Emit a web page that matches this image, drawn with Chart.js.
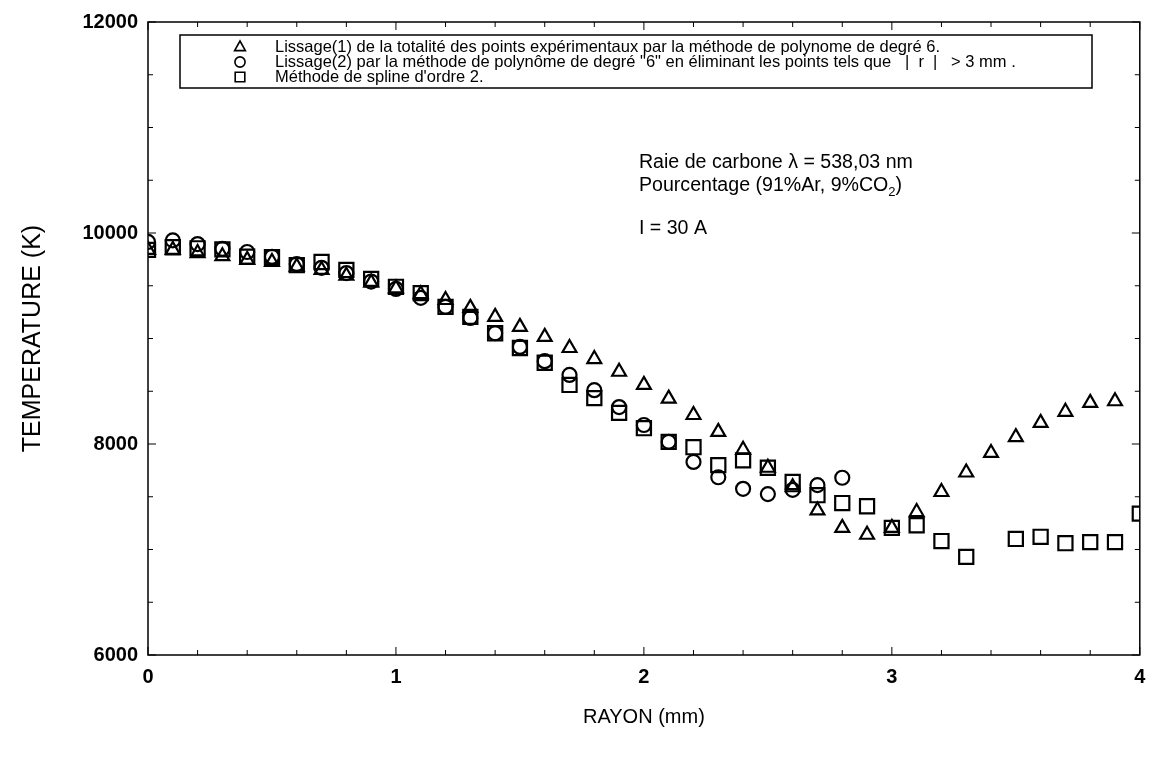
<!DOCTYPE html>
<html>
<head>
<meta charset="utf-8">
<script src="https://cdn.jsdelivr.net/npm/chart.js@4/dist/chart.umd.min.js"></script>
<style>
  html, body { margin: 0; padding: 0; background: #fff; }
  #wrap { width: 1152px; height: 760px; position: relative; }
</style>
</head>
<body>
<div id="wrap"><canvas id="chart"></canvas></div>
<script>
// rayon (mm) for each measured position
const rayon = [0, 0.1, 0.2, 0.3, 0.4, 0.5, 0.6, 0.7, 0.8, 0.9,
  1.0, 1.1, 1.2, 1.3, 1.4, 1.5, 1.6, 1.7, 1.8, 1.9,
  2.0, 2.1, 2.2, 2.3, 2.4, 2.5, 2.6, 2.7, 2.8, 2.9,
  3.0, 3.1, 3.2, 3.3, 3.4, 3.5, 3.6, 3.7, 3.8, 3.9];

// Lissage(1) - triangles
const lissage1 = [9840, 9840, 9810, 9780, 9745, 9725, 9680, 9650, 9595, 9530,
  9475, 9420, 9365, 9290, 9205, 9110, 9015, 8910, 8805, 8685,
  8560, 8430, 8275, 8115, 7945, 7775, 7590, 7370, 7205, 7140,
  7205, 7355, 7545, 7730, 7915, 8065, 8200, 8305, 8390, 8405];

// Lissage(2) - circles, only up to 2.8 mm
const rayon2 = [0, 0.1, 0.2, 0.3, 0.4, 0.5, 0.6, 0.7, 0.8, 0.9,
  1.0, 1.1, 1.2, 1.3, 1.4, 1.5, 1.6, 1.7, 1.8, 1.9,
  2.0, 2.1, 2.2, 2.3, 2.4, 2.5, 2.6, 2.7, 2.8];
const lissage2 = [9915, 9930, 9895, 9850, 9820, 9775, 9705, 9670, 9620, 9540,
  9470, 9385, 9300, 9195, 9050, 8920, 8785, 8655, 8510, 8350,
  8180, 8020, 7830, 7685, 7575, 7525, 7565, 7610, 7680];

// spline d'ordre 2 - squares (no point at 3.4)
const rayonSpline = [0, 0.1, 0.2, 0.3, 0.4, 0.5, 0.6, 0.7, 0.8, 0.9,
  1.0, 1.1, 1.2, 1.3, 1.4, 1.5, 1.6, 1.7, 1.8, 1.9,
  2.0, 2.1, 2.2, 2.3, 2.4, 2.5, 2.6, 2.7, 2.8, 2.9,
  3.0, 3.1, 3.2, 3.3, 3.5, 3.6, 3.7, 3.8, 3.9, 4.0];
const spline = [9840, 9865, 9855, 9845, 9775, 9770, 9695, 9725, 9650, 9565,
  9490, 9430, 9300, 9205, 9050, 8910, 8770, 8560, 8435, 8295,
  8150, 8020, 7970, 7800, 7845, 7775, 7640, 7515, 7440, 7410,
  7205, 7230, 7080, 6930, 7100, 7120, 7060, 7070, 7070, 7340];

const xTicks = [0, 1, 2, 3, 4];
const yTicks = [6000, 8000, 10000, 12000];

const legendLabels = [
  "Lissage(1) de la totalité des points expérimentaux par la méthode de polynome de degré 6.",
  "Lissage(2) par la méthode de polynôme de degré \"6\" en éliminant les points tels que   |  r  |   > 3 mm .",
  "Méthode de spline d'ordre 2."
];
const noteRaie = "Raie de carbone λ = 538,03 nm";
const notePourcent = ["Pourcentage (91%Ar, 9%CO", "2", ")"];
const noteCourant = "I = 30 A";

const toPoints = (xs, ys) => xs.map((x, i) => ({ x: x, y: ys[i] }));

const FONT = "Arial, 'Liberation Sans', sans-serif";

const frameTicks = {
  id: "frameTicks",
  beforeDatasetsDraw(chart) {
    const { ctx, chartArea: a, scales } = chart;
    const sx = scales.x, sy = scales.y;
    ctx.save();
    ctx.strokeStyle = "#000";
    ctx.lineWidth = 1.5;
    ctx.strokeRect(a.left, a.top, a.right - a.left, a.bottom - a.top);
    ctx.lineWidth = 1;
    ctx.beginPath();
    // x ticks every 0.2 mm, longer on the integers
    for (let i = 0; i <= 20; i++) {
      const px = sx.getPixelForValue(i * 0.2);
      const len = i % 5 === 0 ? 8 : 5;
      ctx.moveTo(px, a.bottom); ctx.lineTo(px, a.bottom - len);
      ctx.moveTo(px, a.top); ctx.lineTo(px, a.top + len);
    }
    // y ticks every 500 K
    for (let i = 0; i <= 12; i++) {
      const py = sy.getPixelForValue(6000 + i * 500);
      const len = i % 4 === 0 ? 8 : 5;
      ctx.moveTo(a.left, py); ctx.lineTo(a.left + len, py);
      ctx.moveTo(a.right, py); ctx.lineTo(a.right - len, py);
    }
    ctx.stroke();
    ctx.restore();
  }
};

const marker = (ctx, style, x, y, r) => {
  ctx.beginPath();
  if (style === "triangle") {
    ctx.moveTo(x, y - r);
    ctx.lineTo(x + r * 0.9, y + r * 0.6);
    ctx.lineTo(x - r * 0.9, y + r * 0.6);
    ctx.closePath();
  } else if (style === "circle") {
    ctx.arc(x, y, r * 0.85, 0, Math.PI * 2);
  } else {
    ctx.rect(x - r * 0.8, y - r * 0.8, r * 1.6, r * 1.6);
  }
  ctx.stroke();
};

const boxLegend = {
  id: "boxLegend",
  afterDraw(chart) {
    const { ctx } = chart;
    const sets = chart.data.datasets;
    ctx.save();
    ctx.fillStyle = "#fff";
    ctx.fillRect(180, 35, 912, 53);
    ctx.strokeStyle = "#000";
    ctx.lineWidth = 1.5;
    ctx.strokeRect(180, 35, 912, 53);
    ctx.font = "16.5px " + FONT;
    ctx.fillStyle = "#000";
    ctx.textBaseline = "middle";
    sets.forEach((ds, i) => {
      const y = 47 + i * 15;
      ctx.lineWidth = 1.6;
      marker(ctx, ds.pointStyle, 240, y, 6);
      ctx.fillText(ds.label, 275, y);
    });

    // annotation block, anchored on the data scales
    const sx = chart.scales.x, sy = chart.scales.y;
    const tx = sx.getPixelForValue(1.98);
    ctx.font = "19.6px " + FONT;
    ctx.textBaseline = "middle";
    ctx.fillText(noteRaie, tx, sy.getPixelForValue(10670));
    const py = sy.getPixelForValue(10450);
    ctx.fillText(notePourcent[0], tx, py);
    let w = ctx.measureText(notePourcent[0]).width;
    ctx.font = "13px " + FONT;
    ctx.fillText(notePourcent[1], tx + w, py + 7);
    w += ctx.measureText(notePourcent[1]).width;
    ctx.font = "19.6px " + FONT;
    ctx.fillText(notePourcent[2], tx + w, py);
    ctx.fillText(noteCourant, tx, sy.getPixelForValue(10040));
    ctx.restore();
  }
};

const common = {
  showLine: false,
  backgroundColor: "rgba(0,0,0,0)",
  borderColor: "#000",
  pointBorderWidth: 2.2,
  clip: 0
};

new Chart(document.getElementById("chart"), {
  type: "scatter",
  data: {
    datasets: [
      Object.assign({}, common, {
        label: legendLabels[0],
        data: toPoints(rayon, lissage1),
        pointStyle: "triangle",
        pointRadius: 8
      }),
      Object.assign({}, common, {
        label: legendLabels[1],
        data: toPoints(rayon2, lissage2),
        pointStyle: "circle",
        pointRadius: 7
      }),
      Object.assign({}, common, {
        label: legendLabels[2],
        data: toPoints(rayonSpline, spline),
        pointStyle: "rect",
        pointRadius: 10
      })
    ]
  },
  options: {
    responsive: true,
    maintainAspectRatio: false,
    animation: false,
    layout: { padding: { top: 22, right: 11, left: 0, bottom: 0 } },
    plugins: {
      legend: { display: false },
      tooltip: { enabled: false }
    },
    scales: {
      x: {
        type: "linear",
        min: 0,
        max: 4,
        afterFit(scale) {
          scale.height = 105;
          scale.paddingLeft = 0;
          scale.paddingRight = 0;
        },
        afterBuildTicks(scale) { scale.ticks = xTicks.map(v => ({ value: v })); },
        grid: { display: false, drawTicks: false },
        border: { display: false },
        ticks: {
          color: "#000",
          padding: 10,
          font: { family: FONT, size: 20, weight: "bold" },
          callback: v => String(v)
        },
        title: {
          display: true,
          text: "RAYON (mm)",
          color: "#000",
          font: { family: FONT, size: 20 },
          padding: { top: 0, bottom: 31 }
        }
      },
      y: {
        type: "linear",
        min: 6000,
        max: 12000,
        afterFit(scale) {
          scale.width = 148;
          scale.paddingTop = 0;
          scale.paddingBottom = 0;
        },
        afterBuildTicks(scale) { scale.ticks = yTicks.map(v => ({ value: v })); },
        grid: { display: false, drawTicks: false },
        border: { display: false },
        ticks: {
          color: "#000",
          padding: 10,
          font: { family: FONT, size: 20, weight: "bold" },
          callback: v => String(v)
        },
        title: {
          display: true,
          text: "TEMPERATURE (K)",
          color: "#000",
          font: { family: FONT, size: 25 },
          padding: { top: 18, bottom: 0 }
        }
      }
    }
  },
  plugins: [frameTicks, boxLegend]
});
</script>
</body>
</html>
